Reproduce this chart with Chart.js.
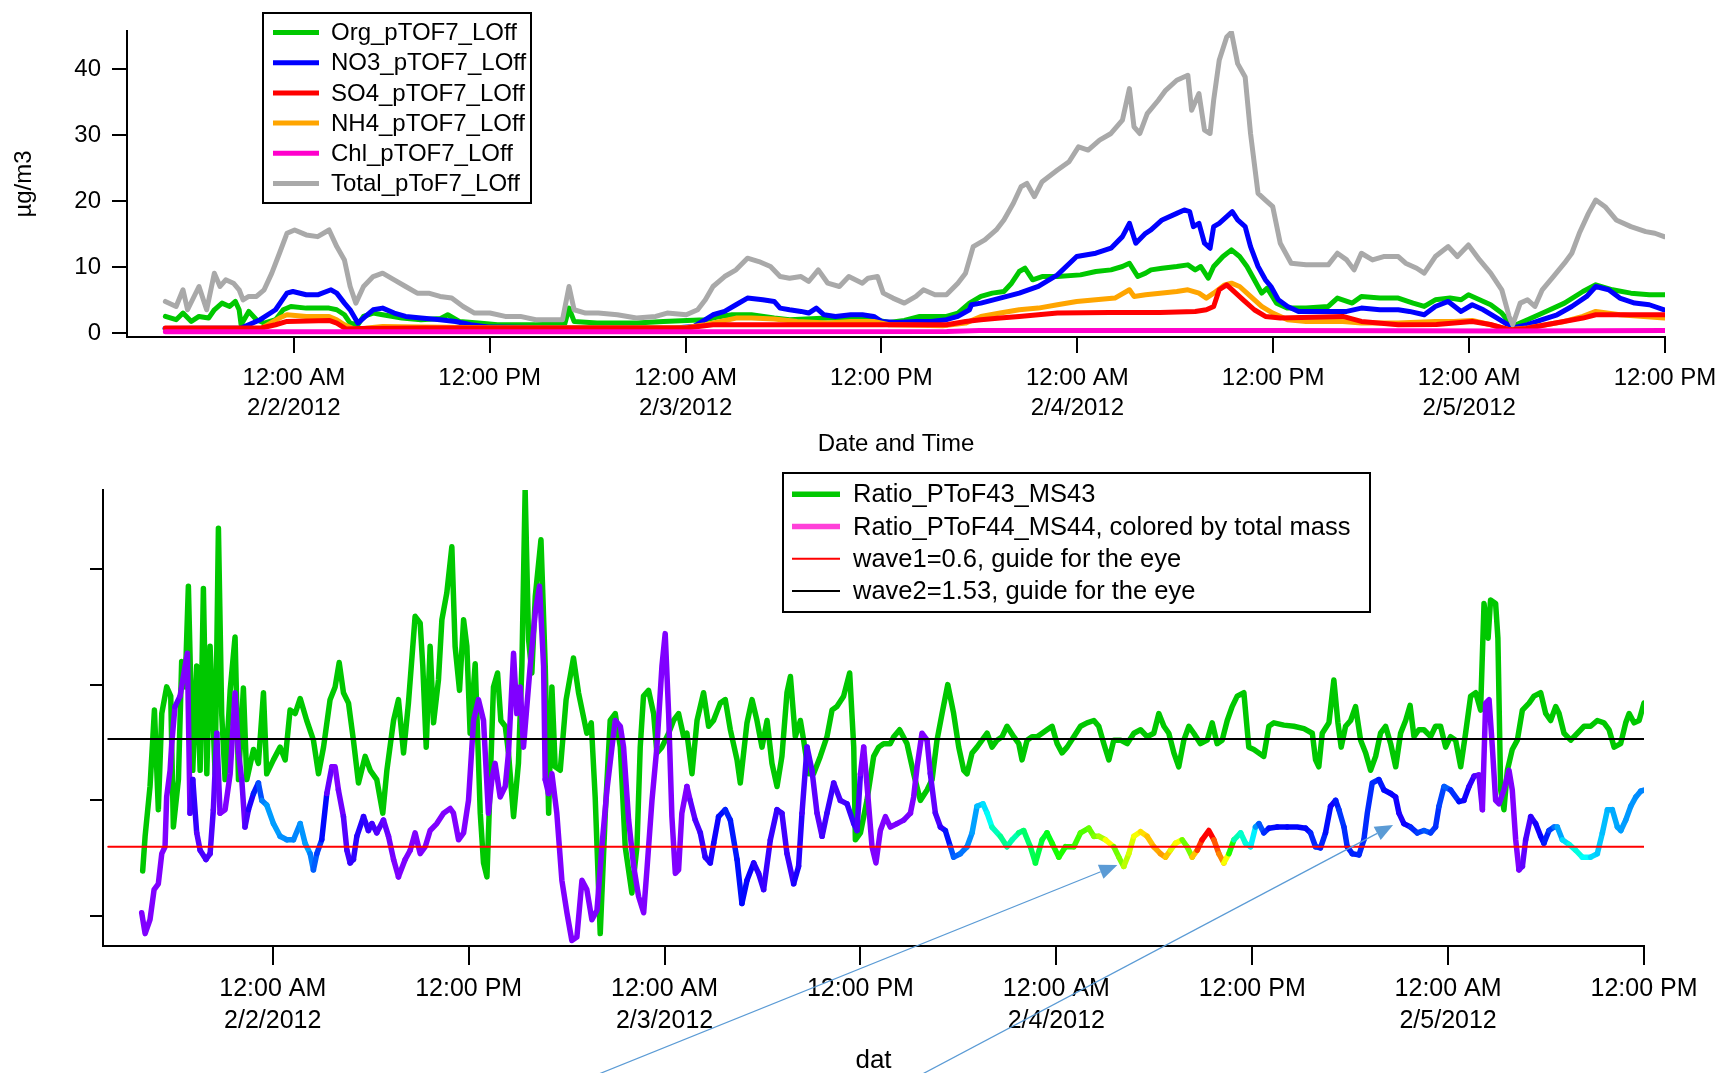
<!DOCTYPE html>
<html>
<head>
<meta charset="utf-8">
<title>pToF vs MS ratios</title>
<script src="https://cdn.jsdelivr.net/npm/chart.js@4.4.1/dist/chart.umd.min.js"></script>
<style>
  html, body { margin: 0; padding: 0; background: #fff; width: 1719px; height: 1073px; overflow: hidden; }
  canvas { position: absolute; left: 0; }
  #massChart { top: 0; }
  #ratioChart { top: 460px; }
</style>
</head>
<body>
<canvas id="massChart" width="1719" height="460"></canvas>
<canvas id="ratioChart" width="1719" height="620"></canvas>
<script>
// Time axis: hours since 2/2/2012 12:00 AM
const tickHours = [0, 12, 24, 36, 48, 60, 72, 84];
const tickLabels = [['12:00 AM', '2/2/2012'], '12:00 PM', ['12:00 AM', '2/3/2012'], '12:00 PM',
                    ['12:00 AM', '2/4/2012'], '12:00 PM', ['12:00 AM', '2/5/2012'], '12:00 PM'];
const massTicks = [0, 10, 20, 30, 40];
const ratioTicks = [0, 1, 2, 3];

// Mass concentrations, µg/m3, as [hour, value]
const org = [[-7.87,2.52],[-7.21,2.02],[-6.79,3.03],[-6.28,1.76],[-5.81,2.52],[-5.22,2.27],[-4.87,3.53],[-4.4,4.54],[-3.93,4.03],[-3.58,4.79],[-3.35,3.53],[-3.23,1.26],[-2.76,3.28],[-2.29,2.02],[-1.82,1.51],[-1.12,2.02],[-0.65,3.53],[-0.18,4.03],[0.76,3.78],[2.16,3.78],[2.63,3.53],[3.1,2.77],[3.45,1.51],[3.92,1.26],[4.27,2.52],[4.86,3.03],[5.44,2.77],[6.62,2.27],[7.79,2.02],[9.0,2.2],[9.43,2.77],[10.14,1.76],[11.31,1.51],[12.48,1.26],[14.82,1.26],[16.6,1.4],[16.86,3.78],[17.17,1.76],[18.57,1.51],[20.99,1.51],[22.64,1.76],[25.21,2.02],[26.15,2.52],[26.85,2.77],[28.03,2.77],[29.43,2.27],[30.37,2.02],[32.71,2.27],[35.06,2.27],[36.46,1.61],[37.4,1.92],[38.34,2.52],[39.98,2.52],[40.68,3.03],[41.39,4.54],[42.09,5.55],[42.79,6.05],[43.5,6.3],[43.97,7.56],[44.44,9.33],[44.79,9.83],[45.26,8.07],[45.84,8.57],[46.78,8.57],[48.19,8.82],[49.13,9.33],[50.06,9.58],[50.76,10.09],[51.19,10.59],[51.7,8.57],[52.18,9.08],[52.51,9.58],[53.19,9.83],[54.09,10.09],[54.77,10.34],[55.22,9.58],[55.56,10.09],[56.02,8.32],[56.35,10.09],[56.92,11.6],[57.44,12.61],[57.94,11.6],[58.39,10.09],[58.84,8.07],[59.29,6.05],[59.63,6.81],[60.2,4.54],[60.88,3.78],[62.01,3.78],[63.37,4.03],[63.93,5.3],[64.84,4.54],[65.4,5.55],[66.53,5.3],[67.66,5.3],[68.57,4.54],[69.25,4.03],[69.93,5.04],[70.83,5.3],[71.51,5.04],[71.96,5.8],[72.64,5.04],[73.32,4.29],[74.0,3.03],[74.67,1.01],[75.58,2.02],[76.71,3.28],[77.84,4.54],[78.97,6.3],[79.76,7.31],[80.78,6.56],[81.91,6.05],[83.04,5.8],[83.95,5.8]];
const no3 = [[-7.9,0.7],[-3.23,0.76],[-2.06,2.02],[-1.12,3.53],[-0.42,6.05],[-0.06,6.3],[0.76,5.8],[1.46,5.8],[2.28,6.56],[2.63,6.05],[3.1,4.54],[3.45,3.53],[3.92,1.51],[4.39,2.52],[4.86,3.53],[5.44,3.78],[6.15,3.03],[6.85,2.52],[7.79,2.27],[8.96,2.02],[9.9,1.76],[10.84,1.26],[12.0,0.9],[16.0,0.8],[20.0,0.8],[23.34,0.76],[24.51,1.01],[25.21,2.02],[25.68,2.77],[26.39,3.28],[27.09,4.29],[27.79,5.3],[28.73,5.04],[29.43,4.79],[29.79,3.78],[30.37,3.53],[31.07,3.28],[31.54,3.03],[32.01,3.78],[32.48,2.77],[33.18,2.52],[34.12,2.77],[34.83,2.77],[35.53,2.52],[36.0,1.76],[36.93,1.61],[38.11,1.76],[39.04,1.76],[39.98,2.02],[40.68,2.52],[41.39,3.53],[41.51,4.29],[42.09,4.54],[43.27,5.3],[44.44,6.05],[45.61,7.06],[46.78,8.82],[47.96,11.6],[49.13,12.1],[50.06,12.86],[50.76,14.62],[51.19,16.64],[51.58,13.62],[52.18,15.13],[52.51,15.63],[53.19,17.15],[54.09,18.15],[54.55,18.66],[54.88,18.41],[55.11,16.14],[55.45,16.64],[55.79,13.62],[56.13,12.86],[56.35,16.14],[56.69,16.64],[57.15,17.65],[57.49,18.41],[57.82,17.15],[58.28,16.14],[58.61,13.11],[59.07,10.09],[59.52,8.07],[59.86,7.06],[60.31,5.04],[60.88,4.03],[61.55,3.28],[63.14,3.28],[64.5,3.28],[65.4,3.78],[66.53,3.53],[67.66,3.53],[68.34,3.28],[69.25,2.77],[69.93,4.03],[70.72,4.79],[71.51,3.28],[72.19,4.29],[72.87,3.53],[73.54,2.52],[74.22,1.51],[74.67,0.76],[75.58,1.26],[76.48,2.02],[77.39,2.77],[78.29,4.03],[79.2,5.55],[79.76,7.06],[80.55,6.56],[81.23,5.3],[82.14,4.54],[83.04,4.29],[83.95,3.53]];
const so4 = [[-7.87,0.76],[-2.0,0.76],[-1.12,1.26],[-0.42,1.76],[2.16,1.92],[2.63,1.51],[3.22,0.61],[4.0,0.7],[8.0,0.76],[16.0,0.76],[24.0,0.76],[25.68,1.26],[40.0,1.26],[41.15,1.76],[42.09,2.02],[43.27,2.27],[44.44,2.52],[45.61,2.77],[46.78,3.03],[50.0,3.1],[53.07,3.13],[55.22,3.28],[55.9,3.53],[56.35,4.03],[56.69,6.56],[57.15,7.31],[57.49,6.56],[58.16,5.04],[58.84,3.53],[59.52,2.52],[60.43,2.27],[64.27,2.52],[65.4,1.76],[67.66,1.26],[70.0,1.3],[72.19,1.76],[73.3,1.3],[74.45,0.5],[75.5,0.7],[76.71,1.26],[78.97,2.27],[79.76,2.77],[83.95,2.77]];
const nh4 = [[-7.87,0.6],[-2.0,0.7],[-1.59,1.26],[-0.88,2.27],[-0.42,2.77],[0.76,2.52],[2.16,2.52],[2.63,2.02],[3.1,1.26],[3.8,0.5],[4.51,0.76],[5.44,1.01],[7.79,0.91],[12.0,0.8],[24.0,0.8],[25.21,1.26],[26.15,1.76],[27.09,2.27],[28.03,2.27],[29.43,2.12],[30.84,1.76],[32.71,1.51],[34.12,1.76],[35.53,1.76],[36.46,1.26],[39.75,1.11],[41.15,1.51],[42.09,2.52],[43.27,3.03],[44.44,3.53],[45.61,3.78],[46.78,4.29],[47.96,4.79],[49.13,5.04],[50.3,5.3],[51.19,6.56],[51.47,5.55],[52.18,5.8],[53.07,6.05],[54.09,6.3],[54.77,6.56],[55.45,6.05],[55.9,5.3],[56.35,6.05],[57.03,7.31],[57.44,7.56],[57.94,7.06],[58.61,5.55],[59.29,4.03],[59.97,3.03],[60.88,2.02],[62.01,1.76],[64.27,1.76],[65.4,1.51],[67.66,1.51],[69.93,1.76],[71.06,1.76],[72.19,1.92],[73.32,1.26],[74.45,0.5],[75.58,0.76],[76.71,1.26],[77.84,1.76],[78.97,2.52],[79.76,3.28],[81.23,2.77],[83.95,2.27]];
const chl = [[-7.87,0.2],[20.0,0.2],[40.0,0.25],[42.0,0.4],[60.0,0.4],[74.5,0.3],[84.0,0.4]];
const total = [[-7.87,4.79],[-7.21,4.03],[-6.79,6.56],[-6.51,3.53],[-5.81,7.06],[-5.34,3.53],[-4.87,9.08],[-4.52,7.06],[-4.17,8.07],[-3.7,7.56],[-3.35,6.56],[-3.11,5.04],[-2.76,5.55],[-2.29,5.55],[-1.82,6.56],[-1.35,9.08],[-0.88,12.1],[-0.42,15.13],[0.05,15.63],[0.76,14.88],[1.46,14.62],[2.16,15.63],[2.63,13.11],[3.1,11.09],[3.45,7.06],[3.8,4.54],[4.27,7.06],[4.86,8.57],[5.44,9.08],[6.15,8.07],[6.85,7.06],[7.56,6.05],[8.26,6.05],[8.96,5.55],[9.67,5.3],[10.37,4.03],[11.07,3.03],[12.01,3.03],[12.95,2.52],[13.88,2.52],[14.82,2.02],[15.76,2.02],[16.46,2.02],[16.86,7.06],[17.17,3.53],[17.87,3.03],[18.65,3.03],[19.82,2.77],[20.99,2.27],[22.17,2.52],[22.87,3.03],[24.04,2.77],[24.74,3.53],[25.21,5.04],[25.68,7.06],[26.39,8.57],[27.09,9.58],[27.79,11.35],[28.49,10.84],[29.2,10.09],[29.79,8.57],[30.37,8.32],[31.07,8.57],[31.54,7.82],[32.13,9.58],[32.71,7.56],[33.42,7.06],[34.0,8.57],[34.83,7.56],[35.18,8.32],[35.76,8.57],[36.11,6.05],[36.7,5.3],[37.4,4.54],[38.11,5.55],[38.57,6.56],[39.28,5.8],[39.98,5.8],[40.68,7.56],[41.15,9.08],[41.62,13.11],[42.33,14.12],[43.03,15.63],[43.5,17.15],[44.08,19.67],[44.55,22.19],[44.91,22.69],[45.37,20.68],[45.84,22.95],[46.78,24.71],[47.49,25.97],[48.07,28.24],[48.66,27.74],[49.36,29.25],[50.06,30.26],[50.76,32.27],[51.19,37.07],[51.47,31.27],[51.83,30.26],[52.28,33.28],[52.96,35.3],[53.41,36.81],[54.09,38.33],[54.77,39.08],[55.0,33.79],[55.45,36.31],[55.79,30.76],[56.13,30.26],[56.35,35.3],[56.69,41.35],[57.15,44.88],[57.44,45.6],[57.82,40.85],[58.28,38.83],[58.61,30.26],[59.07,21.18],[59.52,20.17],[59.97,19.16],[60.43,13.62],[61.1,10.59],[62.01,10.34],[63.37,10.34],[63.93,12.1],[64.5,11.09],[64.95,9.58],[65.4,12.1],[66.08,11.09],[66.76,11.6],[67.66,11.6],[68.11,10.59],[68.79,9.83],[69.25,9.08],[69.93,11.6],[70.72,13.11],[71.28,11.6],[71.96,13.36],[72.64,11.09],[73.32,9.08],[74.0,6.56],[74.45,2.52],[74.67,1.26],[75.13,4.54],[75.58,5.04],[76.03,4.03],[76.48,6.56],[77.16,8.57],[77.84,10.59],[78.29,12.1],[78.75,15.13],[79.31,18.15],[79.76,20.17],[80.33,19.16],[81.01,17.15],[81.91,16.14],[82.82,15.38],[83.38,15.13],[83.95,14.62]];

// pToF / MS ratios, as [hour, value]
const ratio43 = [[-7.97,0.39],[-7.82,0.69],[-7.52,1.12],[-7.25,1.78],[-7.01,0.92],[-6.8,1.75],[-6.5,1.98],[-6.25,1.9],[-6.09,0.77],[-5.78,1.18],[-5.58,2.2],[-5.37,1.98],[-5.17,2.85],[-4.9,1.26],[-4.66,2.16],[-4.45,1.26],[-4.25,2.83],[-4.04,1.23],[-3.84,2.33],[-3.53,1.23],[-3.33,3.35],[-3.13,1.75],[-2.92,1.18],[-2.61,1.95],[-2.31,2.41],[-2.1,1.18],[-1.8,1.97],[-1.59,1.18],[-1.18,1.44],[-0.88,1.32],[-0.57,1.93],[-0.37,1.23],[0.04,1.35],[0.45,1.46],[0.76,1.35],[1.06,1.78],[1.37,1.75],[1.68,1.88],[2.08,1.69],[2.49,1.52],[2.8,1.23],[3.11,1.46],[3.51,1.87],[3.82,1.98],[4.07,2.19],[4.33,1.93],[4.64,1.84],[4.94,1.52],[5.25,1.15],[5.66,1.38],[5.97,1.26],[6.37,1.18],[6.74,0.89],[6.99,1.26],[7.4,1.69],[7.7,1.87],[8.01,1.41],[8.31,1.84],[8.72,2.59],[9.03,2.53],[9.19,2.16],[9.4,1.46],[9.64,2.33],[9.85,1.67],[10.15,2.04],[10.36,2.56],[10.66,2.79],[10.97,3.19],[11.17,2.33],[11.44,1.95],[11.69,2.56],[11.89,2.33],[12.09,1.58],[12.4,2.18],[12.71,0.89],[12.91,0.46],[13.12,0.34],[13.52,1.98],[13.77,2.1],[13.97,1.69],[14.24,1.64],[14.44,1.41],[14.75,0.86],[15.05,1.32],[15.26,2.16],[15.46,3.68],[15.67,2.39],[15.87,2.1],[16.08,2.76],[16.43,3.25],[16.69,2.16],[16.9,0.89],[17.1,1.98],[17.3,1.29],[17.61,1.26],[17.97,1.87],[18.42,2.23],[18.73,1.93],[19.24,1.58],[19.51,1.67],[19.75,1.03],[20.06,-0.15],[20.37,0.89],[20.67,1.69],[20.98,1.75],[21.29,1.46],[21.59,0.6],[22.0,0.2],[22.31,0.6],[22.51,1.46],[22.71,1.9],[23.02,1.95],[23.33,1.75],[23.53,1.41],[23.84,1.46],[24.25,1.58],[24.55,1.69],[24.86,1.75],[25.17,1.55],[25.37,1.58],[25.68,1.23],[25.99,1.69],[26.39,1.93],[26.7,1.64],[27.0,1.69],[27.41,1.84],[27.72,1.87],[28.03,1.61],[28.44,1.35],[28.64,1.15],[29.05,1.67],[29.36,1.87],[29.66,1.69],[29.97,1.46],[30.28,1.69],[30.58,1.32],[30.89,1.12],[31.19,1.38],[31.5,1.93],[31.71,2.07],[32.01,1.55],[32.32,1.69],[32.52,1.52],[32.83,1.23],[33.13,1.23],[33.54,1.38],[33.95,1.55],[34.26,1.78],[34.56,1.81],[34.97,1.9],[35.34,2.1],[35.59,1.46],[35.69,0.66],[36.0,0.72],[36.4,1.0],[36.81,1.38],[37.12,1.46],[37.42,1.49],[37.83,1.49],[38.04,1.55],[38.4,1.61],[38.85,1.49],[39.26,1.23],[39.67,1.0],[40.08,1.09],[40.39,1.18],[40.69,1.52],[41.0,1.75],[41.35,2.0],[41.71,1.75],[42.02,1.46],[42.33,1.26],[42.53,1.23],[42.84,1.41],[43.14,1.46],[43.45,1.52],[43.76,1.58],[44.06,1.46],[44.37,1.52],[44.68,1.55],[44.98,1.64],[45.39,1.55],[45.7,1.49],[45.9,1.35],[46.21,1.52],[46.51,1.55],[46.82,1.55],[47.13,1.58],[47.43,1.61],[47.74,1.64],[48.05,1.49],[48.35,1.41],[48.66,1.46],[49.07,1.55],[49.48,1.64],[49.88,1.67],[50.3,1.69],[50.6,1.64],[50.91,1.49],[51.22,1.35],[51.52,1.52],[51.93,1.52],[52.34,1.49],[52.75,1.58],[53.16,1.61],[53.56,1.55],[53.97,1.58],[54.28,1.75],[54.59,1.64],[54.89,1.58],[55.2,1.41],[55.5,1.29],[55.81,1.52],[56.12,1.64],[56.42,1.58],[56.83,1.49],[57.24,1.52],[57.55,1.67],[57.85,1.49],[58.16,1.52],[58.47,1.69],[58.77,1.81],[59.08,1.9],[59.49,1.93],[59.79,1.46],[60.1,1.44],[60.71,1.38],[61.02,1.64],[61.33,1.67],[61.94,1.65],[62.55,1.64],[63.17,1.62],[63.68,1.58],[63.88,1.35],[64.08,1.29],[64.29,1.58],[64.7,1.67],[65.0,2.04],[65.25,1.67],[65.45,1.46],[65.72,1.64],[66.03,1.69],[66.33,1.81],[66.64,1.52],[66.95,1.41],[67.25,1.26],[67.56,1.38],[67.86,1.58],[68.17,1.64],[68.48,1.49],[68.79,1.29],[69.09,1.58],[69.4,1.69],[69.67,1.82],[69.91,1.55],[70.21,1.61],[70.52,1.61],[70.93,1.55],[71.23,1.64],[71.54,1.64],[71.85,1.46],[72.15,1.55],[72.46,1.52],[72.77,1.29],[73.07,1.58],[73.38,1.9],[73.69,1.93],[73.99,1.78],[74.2,2.7],[74.45,2.4],[74.6,2.73],[74.91,2.7],[75.05,2.4],[75.22,1.09],[75.42,0.92],[75.63,1.26],[75.93,1.44],[76.24,1.52],[76.55,1.78],[76.96,1.84],[77.26,1.9],[77.67,1.93],[77.98,1.75],[78.28,1.69],[78.59,1.81],[78.8,1.75],[79.1,1.58],[79.51,1.52],[79.92,1.58],[80.33,1.64],[80.73,1.64],[81.14,1.69],[81.55,1.67],[81.86,1.61],[82.17,1.46],[82.57,1.49],[82.88,1.67],[83.09,1.75],[83.39,1.67],[83.7,1.69],[84.0,1.84]];
const ratio44 = [[-8.03,0.03],[-7.82,-0.15],[-7.52,-0.03],[-7.27,0.23],[-7.01,0.28],[-6.8,0.54],[-6.6,0.6],[-6.5,1.03],[-6.29,1.26],[-6.19,1.49],[-5.99,1.81],[-5.68,1.9],[-5.37,2.16],[-5.23,2.27],[-5.07,0.89],[-4.9,1.18],[-4.66,0.72],[-4.45,0.57],[-4.09,0.49],[-3.84,0.54],[-3.64,0.92],[-3.43,1.58],[-3.23,0.89],[-2.92,0.92],[-2.61,1.23],[-2.31,1.93],[-2.1,1.41],[-1.9,1.18],[-1.7,0.77],[-1.49,0.92],[-1.18,1.06],[-0.88,1.15],[-0.67,1.0],[-0.37,0.96],[0.04,0.8],[0.45,0.69],[0.86,0.66],[1.27,0.66],[1.68,0.8],[1.98,0.63],[2.29,0.54],[2.49,0.4],[2.7,0.54],[3.0,0.66],[3.31,1.06],[3.62,1.29],[3.82,1.29],[4.02,1.09],[4.33,0.86],[4.54,0.57],[4.74,0.46],[4.94,0.49],[5.15,0.69],[5.56,0.86],[5.86,0.74],[6.07,0.8],[6.37,0.72],[6.78,0.83],[7.09,0.69],[7.4,0.49],[7.7,0.34],[8.11,0.49],[8.42,0.57],[8.72,0.72],[9.03,0.54],[9.34,0.6],[9.64,0.74],[10.05,0.8],[10.46,0.89],[10.87,0.93],[11.07,0.89],[11.38,0.66],[11.69,0.72],[11.99,1.0],[12.3,1.69],[12.6,1.87],[12.91,1.69],[13.21,0.89],[13.42,1.18],[13.62,1.32],[13.93,1.03],[14.24,1.12],[14.44,1.41],[14.75,2.27],[14.95,1.75],[15.16,1.98],[15.36,1.46],[15.77,2.16],[16.08,2.62],[16.34,2.85],[16.59,2.16],[16.69,1.18],[16.89,1.06],[17.1,1.23],[17.4,0.89],[17.71,0.31],[18.02,0.03],[18.32,-0.21],[18.63,-0.18],[18.94,0.31],[19.24,0.23],[19.55,-0.03],[19.86,0.05],[20.16,0.6],[20.47,1.09],[20.78,1.46],[20.98,1.69],[21.29,1.64],[21.49,1.46],[21.8,0.83],[22.11,0.43],[22.41,0.17],[22.72,0.03],[22.92,0.4],[23.23,1.0],[23.53,1.46],[23.84,2.16],[24.04,2.44],[24.25,1.75],[24.45,0.86],[24.66,0.37],[24.86,0.4],[25.06,0.89],[25.37,1.12],[25.57,1.0],[25.88,0.83],[26.19,0.72],[26.49,0.51],[26.8,0.46],[27.01,0.63],[27.31,0.86],[27.72,0.92],[28.03,0.83],[28.44,0.49],[28.74,0.11],[29.05,0.31],[29.46,0.46],[29.76,0.37],[30.07,0.23],[30.48,0.66],[30.89,0.92],[31.19,0.89],[31.5,0.54],[31.91,0.28],[32.21,0.43],[32.42,0.89],[32.73,1.46],[33.03,1.26],[33.34,0.89],[33.65,0.69],[33.95,0.89],[34.36,1.15],[34.77,1.0],[35.18,0.97],[35.59,0.8],[35.79,0.74],[36.0,1.23],[36.2,1.46],[36.41,1.12],[36.71,0.6],[36.95,0.46],[37.22,0.74],[37.53,0.86],[37.83,0.77],[38.24,0.8],[38.65,0.83],[39.06,0.89],[39.26,1.03],[39.47,1.29],[39.77,1.58],[40.08,1.52],[40.28,1.23],[40.59,0.89],[40.9,0.77],[41.2,0.74],[41.51,0.6],[41.71,0.51],[42.12,0.54],[42.53,0.6],[42.84,0.72],[43.14,0.95],[43.51,0.97],[43.76,0.89],[44.06,0.77],[44.57,0.69],[44.98,0.6],[45.29,0.66],[45.7,0.72],[46.0,0.74],[46.41,0.6],[46.72,0.46],[47.13,0.66],[47.43,0.72],[47.74,0.63],[48.15,0.51],[48.56,0.6],[49.07,0.6],[49.48,0.72],[49.99,0.76],[50.3,0.69],[50.6,0.69],[51.01,0.66],[51.52,0.6],[51.83,0.51],[52.13,0.43],[52.44,0.54],[52.75,0.69],[53.16,0.73],[53.56,0.69],[53.97,0.6],[54.38,0.54],[54.69,0.51],[54.99,0.57],[55.3,0.63],[55.71,0.66],[56.01,0.6],[56.32,0.51],[56.63,0.57],[56.93,0.66],[57.34,0.74],[57.65,0.66],[57.96,0.54],[58.26,0.46],[58.57,0.54],[58.88,0.66],[59.29,0.72],[59.59,0.63],[59.9,0.6],[60.2,0.77],[60.41,0.8],[60.71,0.72],[61.02,0.76],[61.53,0.77],[62.14,0.77],[62.76,0.77],[63.27,0.76],[63.57,0.72],[63.88,0.6],[64.18,0.59],[64.49,0.72],[64.8,0.95],[65.11,1.0],[65.31,0.92],[65.62,0.77],[65.82,0.6],[66.13,0.54],[66.54,0.53],[66.84,0.66],[67.05,0.89],[67.35,1.15],[67.76,1.18],[68.07,1.09],[68.48,1.06],[68.78,1.03],[68.99,0.89],[69.29,0.8],[69.7,0.77],[70.11,0.72],[70.52,0.74],[70.93,0.72],[71.23,0.77],[71.44,0.95],[71.75,1.12],[72.15,1.09],[72.67,0.99],[72.97,1.0],[73.28,1.12],[73.59,1.21],[73.89,1.22],[74.1,0.92],[74.3,1.84],[74.51,1.87],[74.71,1.46],[74.91,1.0],[75.12,0.97],[75.42,1.09],[75.73,1.26],[75.93,1.09],[76.14,0.66],[76.34,0.4],[76.55,0.43],[76.75,0.66],[77.06,0.86],[77.36,0.8],[77.67,0.69],[77.87,0.63],[78.18,0.74],[78.49,0.77],[78.69,0.77],[79.0,0.66],[79.41,0.62],[79.81,0.57],[80.22,0.51],[80.73,0.51],[81.14,0.54],[81.45,0.72],[81.76,0.92],[82.06,0.92],[82.37,0.77],[82.58,0.74],[82.88,0.83],[83.19,0.95],[83.5,1.03],[83.8,1.08],[84.0,1.09]];

// Guides for the eye
const wave1 = 0.6;
const wave2 = 1.53;
const guideHours = [-10.08, 84];

// Annotation arrows (hour, ratio): tails below the axis, heads on the curve
const arrowFrom = [[19.05, -1.414], [39.1, -1.414]];
const arrowTo = [[51.74, 0.442], [68.63, 0.788]];

// Colour scale for the total mass, µg/m3
const massColourRange = [6, 44];

const FONT = "'Liberation Sans', Arial, Helvetica, sans-serif";
Chart.defaults.font.family = FONT;
Chart.defaults.color = '#000';

const toPoints = arr => arr.map(([x, y]) => ({ x, y }));

function totalAt(h) {
  if (h <= total[0][0]) return total[0][1];
  for (let i = 1; i < total.length; i++) {
    if (h <= total[i][0]) {
      const [h0, v0] = total[i - 1], [h1, v1] = total[i];
      return v0 + (v1 - v0) * (h - h0) / (h1 - h0);
    }
  }
  return total[total.length - 1][1];
}
function massColour(m) {
  const t = Math.min(1, Math.max(0, (m - massColourRange[0]) / (massColourRange[1] - massColourRange[0])));
  return `hsl(${(270 * (1 - t)).toFixed(1)}, 100%, 50%)`;
}

function series(label, data, color, width, order, extra) {
  return Object.assign({
    label, data: toPoints(data), borderColor: color, borderWidth: width,
    pointRadius: 0, pointHoverRadius: 0, tension: 0, fill: false, order,
    borderJoinStyle: 'round', borderCapStyle: 'round'
  }, extra || {});
}

// Framed legend drawn inside the plot
const boxLegend = {
  id: 'boxLegend',
  afterDraw(chart, args, o) {
    const ctx = chart.ctx;
    ctx.save();
    ctx.fillStyle = '#fff';
    ctx.fillRect(o.left, o.top, o.width, o.height);
    ctx.lineWidth = 2;
    ctx.strokeStyle = '#000';
    ctx.strokeRect(o.left, o.top, o.width, o.height);
    ctx.font = `${o.fontSize}px ${FONT}`;
    ctx.textBaseline = 'middle';
    ctx.textAlign = 'left';
    chart.data.datasets.forEach((ds, i) => {
      const y = o.firstRow + i * o.rowGap;
      ctx.strokeStyle = ds.legendColor || ds.borderColor;
      ctx.lineWidth = ds.legendWidth || ds.borderWidth;
      ctx.lineCap = 'butt';
      ctx.beginPath();
      ctx.moveTo(o.swatchFrom, y);
      ctx.lineTo(o.swatchTo, y);
      ctx.stroke();
      ctx.fillStyle = '#000';
      ctx.fillText(ds.label, o.textX, y + 1);
    });
    ctx.restore();
  }
};

// Thin pointer arrows, positioned in data units
const arrows = {
  id: 'arrows',
  afterDraw(chart) {
    const { ctx, scales: { x, y } } = chart;
    ctx.save();
    ctx.strokeStyle = '#5b9bd5';
    ctx.fillStyle = '#5b9bd5';
    ctx.lineWidth = 1.3;
    arrowFrom.forEach(([h0, r0], i) => {
      const [h1, r1] = arrowTo[i];
      const x0 = x.getPixelForValue(h0), y0 = y.getPixelForValue(r0);
      const x1 = x.getPixelForValue(h1), y1 = y.getPixelForValue(r1);
      const a = Math.atan2(y1 - y0, x1 - x0), L = 18, W = 7.5;
      const bx = x1 - L * Math.cos(a), by = y1 - L * Math.sin(a);
      ctx.beginPath(); ctx.moveTo(x0, y0); ctx.lineTo(bx, by); ctx.stroke();
      ctx.beginPath();
      ctx.moveTo(x1, y1);
      ctx.lineTo(bx + W * Math.sin(a), by - W * Math.cos(a));
      ctx.lineTo(bx - W * Math.sin(a), by + W * Math.cos(a));
      ctx.closePath(); ctx.fill();
    });
    ctx.restore();
  }
};

function timeAxis(opts) {
  return {
    type: 'linear', min: opts.min, max: 84,
    afterBuildTicks: s => { s.ticks = tickHours.map(v => ({ value: v })); },
    afterFit: s => { s.height = opts.height; s.paddingLeft = 0; s.paddingRight = 0; },
    ticks: {
      autoSkip: false, maxRotation: 0, minRotation: 0, color: '#000',
      padding: opts.tickPad, font: { size: opts.tickSize, lineHeight: opts.tickLine },
      callback: v => { const i = tickHours.indexOf(v); return i >= 0 ? tickLabels[i] : ''; }
    },
    grid: { drawOnChartArea: false, drawTicks: true, tickLength: opts.tickLength, color: '#000', lineWidth: 2 },
    border: { display: true, color: '#000', width: 2 },
    title: { display: true, text: opts.title, color: '#000', font: { size: opts.titleSize, lineHeight: 1.2 }, padding: { top: 0, bottom: opts.titlePad } }
  };
}

// Upper panel: species mass
new Chart(document.getElementById('massChart'), {
  type: 'line',
  data: {
    datasets: [
      series('Org_pTOF7_LOff', org, '#00c800', 5, 6),
      series('NO3_pTOF7_LOff', no3, '#0000ff', 5, 5),
      series('SO4_pTOF7_LOff', so4, '#ff0000', 5, 3),
      series('NH4_pTOF7_LOff', nh4, '#ffa500', 5, 4),
      series('Chl_pTOF7_LOff', chl, '#ff00cc', 5, 2),
      series('Total_pToF7_LOff', total, '#a9a9a9', 5, 1)
    ]
  },
  options: {
    responsive: false, animation: false, events: [],
    layout: { padding: { left: 0, top: 31, right: 54, bottom: 0 } },
    plugins: {
      legend: { display: false }, tooltip: { enabled: false },
      boxLegend: { left: 263, top: 13, width: 268, height: 190, fontSize: 24, firstRow: 32.5, rowGap: 30.2, swatchFrom: 273, swatchTo: 319, textX: 331 }
    },
    scales: {
      x: timeAxis({ min: -10.22, height: 123, tickPad: 10, tickSize: 24, tickLine: 1.25, tickLength: 16, title: 'Date and Time', titleSize: 24, titlePad: 1.6 }),
      y: {
        type: 'linear', min: -0.6, max: 45.8,
        afterBuildTicks: s => { s.ticks = massTicks.map(v => ({ value: v })); },
        afterFit: s => { s.width = 127; s.paddingTop = 0; s.paddingBottom = 0; },
        ticks: { color: '#000', padding: 11, font: { size: 24 } },
        grid: { drawOnChartArea: false, drawTicks: true, tickLength: 15, color: '#000', lineWidth: 2 },
        border: { display: true, color: '#000', width: 2 },
        title: { display: true, text: 'µg/m3', color: '#000', font: { size: 24, lineHeight: 1.2 }, padding: { top: 9.6, bottom: 0 } }
      }
    }
  },
  plugins: [boxLegend]
});

// Lower panel: ratios, the m/z 44 ratio coloured by total mass
new Chart(document.getElementById('ratioChart'), {
  type: 'line',
  data: {
    datasets: [
      series('Ratio_PToF43_MS43', ratio43, '#00c800', 5.5, 3),
      series('Ratio_PToF44_MS44, colored by total mass', ratio44, '#8000ff', 5.5, 2, {
        legendColor: '#ff40d9',
        segment: { borderColor: c => massColour(totalAt((c.p0.parsed.x + c.p1.parsed.x) / 2)) }
      }),
      series(`wave1=${wave1}, guide for the eye`, guideHours.map(h => [h, wave1]), '#ff0000', 2, 1),
      series(`wave2=${wave2}, guide for the eye`, guideHours.map(h => [h, wave2]), '#000000', 2, 0)
    ]
  },
  options: {
    responsive: false, animation: false, events: [],
    layout: { padding: { left: 0, top: 30, right: 75, bottom: 0 } },
    plugins: {
      legend: { display: false }, tooltip: { enabled: false },
      boxLegend: { left: 783, top: 13, width: 587, height: 139, fontSize: 25.5, firstRow: 34.3, rowGap: 32.2, swatchFrom: 792, swatchTo: 840, textX: 853 }
    },
    scales: {
      x: timeAxis({ min: -10.4, height: 134, tickPad: 7.75, tickSize: 25, tickLine: 1.3, tickLength: 19, title: 'dat', titleSize: 26, titlePad: 3.4 }),
      y: {
        type: 'linear', min: -0.257, max: 3.68,
        afterBuildTicks: s => { s.ticks = ratioTicks.map(v => ({ value: v })); },
        afterFit: s => { s.width = 103; s.paddingTop = 0; s.paddingBottom = 0; },
        ticks: { display: false },
        grid: { drawOnChartArea: false, drawTicks: true, tickLength: 13, color: '#000', lineWidth: 2 },
        border: { display: true, color: '#000', width: 2 }
      }
    }
  },
  plugins: [boxLegend, arrows]
});
</script>
</body>
</html>
